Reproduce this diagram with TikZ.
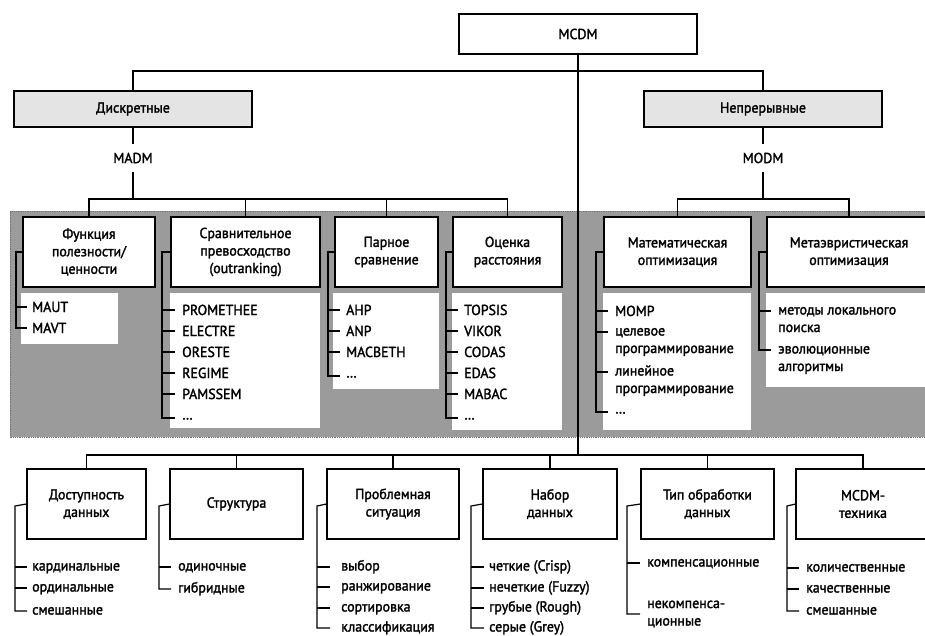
\documentclass[tikz,border=0pt]{standalone}
\usepackage{fontspec}
\setmainfont{PT Sans}[FakeStretch=0.96, FakeBold=1.8]
\usetikzlibrary{calc}
\definecolor{panel}{HTML}{9B9B9B}
\definecolor{catfill}{HTML}{E4E4E4}
\tikzset{
  ln/.style={line width=1.2pt},
  box/.style={draw, line width=1.2pt, fill=white, align=center, inner sep=0pt},
  catbox/.style={box, fill=catfill},
  lbl/.style={inner sep=0pt, minimum height=28pt},
  itm/.style={anchor=west, inner sep=0pt, text height=10pt, text depth=0pt},
  itl/.style={itm, text height=7pt},
  dts/.style={itm, text height=3pt},
  itmc/.style={anchor=west, inner sep=0pt, align=left},
}
\newcommand\twol[2]{\begin{tabular}[t]{@{}l@{}}#1\\#2\end{tabular}}
\begin{document}
\begin{tikzpicture}[x=1pt,y=-1pt,font=\fontsize{14.5}{17.5}\selectfont]
\useasboundingbox (0,0) rectangle (925,636);
\clip (0,0) rectangle (925,636);
% background panel and list areas
\fill[panel] (10,211) rectangle (940,437);
\draw[black!55, line width=0.8pt, densely dotted] (940,211) -- (10,211) -- (10,437) -- (940,437);
\fill[white] (21,293) rectangle (118,344);
\fill[white] (170,293) rectangle (320,428);
\fill[white] (333,293) rectangle (439,389);
\fill[white] (452,293) rectangle (562,430);
\fill[white] (603,293) rectangle (751,430);
\fill[white] (766,293) rectangle (940,387);

% top level
\node[box, minimum width=238pt, minimum height=40pt] (mcdm) at (578,34) {MCDM};
\node[catbox, minimum width=238pt, minimum height=36pt] (disc) at (133,109) {Дискретные};
\node[catbox, minimum width=238pt, minimum height=36pt] (cont) at (763,109) {Непрерывные};
\node[lbl] (madm) at (133,158) {MADM};
\node[lbl] (modm) at (763,158) {MODM};

% MADM / MODM groups
\node[box, minimum width=132pt, minimum height=70pt] (f1) at (89,252) {Функция\\полезности/\\ценности};
\node[box, minimum width=149pt, minimum height=70pt] (f2) at (245.5,252) {Сравнительное\\превосходство\\(outranking)};
\node[box, minimum width=103pt, minimum height=70pt] (f3) at (386.5,252) {Парное\\сравнение};
\node[box, minimum width=109pt, minimum height=70pt] (f4) at (507.5,252) {Оценка\\расстояния};
\node[box, minimum width=147pt, minimum height=70pt] (f5) at (677.5,252) {Математическая\\оптимизация};
\node[box, minimum width=164pt, minimum height=70pt] (f6) at (849,252) {Метаэвристическая\\оптимизация};

% bottom groups
\node[box, minimum width=119pt, minimum height=70pt] (g1) at (86.5,504) {Доступность\\данных};
\node[box, minimum width=133pt, minimum height=70pt] (g2) at (236.5,504) {Структура};
\node[box, minimum width=132pt, minimum height=70pt] (g3) at (393,504) {Проблемная\\ситуация};
\node[box, minimum width=134pt, minimum height=70pt] (g4) at (550,504) {Набор\\данных};
\node[box, minimum width=133pt, minimum height=70pt] (g5) at (707.5,504) {Тип обработки\\данных};
\node[box, minimum width=134pt, minimum height=70pt] (g6) at (863,504) {MCDM-\\техника};

% items
\node[itm] (a1) at (32,307) {MAUT};
\node[itm] (a2) at (32,328) {MAVT};

\node[itm] (b1) at (182,310) {PROMETHEE};
\node[itm] (b2) at (182,331) {ELECTRE};
\node[itm] (b3) at (182,352) {ORESTE};
\node[itm] (b4) at (182,373) {REGIME};
\node[itm] (b5) at (182,394) {PAMSSEM};
\node[dts] (b6) at (182,418) {…};

\node[itm] (c1) at (346,310) {AHP};
\node[itm] (c2) at (346,331) {ANP};
\node[itm] (c3) at (346,352) {MACBETH};
\node[dts] (c4) at (346,376) {…};

\node[itm] (d1) at (464,310) {TOPSIS};
\node[itm] (d2) at (464,331) {VIKOR};
\node[itm] (d3) at (464,352) {CODAS};
\node[itm] (d4) at (464,373) {EDAS};
\node[itm] (d5) at (464,394) {MABAC};
\node[dts] (d6) at (464,418) {…};

\node[itm] (e1) at (615,311) {MOMP};
\node[itl] (e2) at (615,332) {\twol{целевое}{программирование}};
\node[itl] (e3) at (615,372) {\twol{линейное}{программирование}};
\node[dts] (e4) at (615,412) {…};

\node[itl] (h1) at (778,311) {\twol{методы локального}{поиска}};
\node[itl] (h2) at (778,350) {\twol{эволюционные}{алгоритмы}};

\node[itl] (p1) at (32,567) {кардинальные};
\node[itl] (p2) at (32,588) {ординальные};
\node[itl] (p3) at (32,611) {смешанные};

\node[itl] (q1) at (178,567) {одиночные};
\node[itl] (q2) at (178,589) {гибридные};

\node[itl] (r1) at (341,567) {выбор};
\node[itl] (r2) at (341,587) {ранжирование};
\node[itl] (r3) at (341,608) {сортировка};
\node[itl] (r4) at (341,628) {классификация};

\node[itl] (s1) at (489,567) {четкие (Crisp)};
\node[itl] (s2) at (489,588) {нечеткие (Fuzzy)};
\node[itl] (s3) at (489,608) {грубые (Rough)};
\node[itl] (s4) at (489,628) {серые (Grey)};

\node[itl] (t1) at (647,563) {компенсационные};
\node[itmc] (t2) at (647,614) {некомпенса-\\ционные};

\node[itl] (u1) at (806,568) {количественные};
\node[itl] (u2) at (806,589) {качественные};
\node[itl] (u3) at (806,611) {смешанные};

% bracket corners
\coordinate (k1) at (16,252);
\coordinate (k2) at (162,252);
\coordinate (k3) at (328,252);
\coordinate (k4) at (446,252);
\coordinate (k5) at (596,252);
\coordinate (k6) at (759,252);
\coordinate (m1) at (15,506);
\coordinate (m2) at (159,506);
\coordinate (m3) at (317,506);
\coordinate (m4) at (471,506);
\coordinate (m5) at (627,506);
\coordinate (m6) at (787,506);

% bus coordinates
\coordinate (busT) at (578,71);
\coordinate (busA) at (133,199);
\coordinate (busO) at (763,199);
\coordinate (busB) at (578,455);

\begin{scope}[ln]
% tree connectors
\draw (mcdm.south) -- (busB);
\draw (disc.north) -- (disc.north |- busT) -- (cont.north |- busT) -- (cont.north);
\draw (disc.south) -- (madm.north);
\draw (cont.south) -- (modm.north);
\draw (madm.south) -- (busA);
\draw (modm.south) -- (busO);
\draw (f1.north) -- (f1.north |- busA) -- (f4.north |- busA) -- (f4.north);
\draw (f2.north) -- (f2.north |- busA);
\draw (f3.north) -- (f3.north |- busA);
\draw (f5.north) -- (f5.north |- busO) -- (f6.north |- busO) -- (f6.north);
\draw (g1.north) -- (g1.north |- busB) -- (g6.north |- busB) -- (g6.north);
\foreach \g in {g2,g3,g4,g5} \draw (\g.north) -- (\g.north |- busB);

% brackets
\draw (f1.west) -- (k1) -- (k1 |- a2.west) -- ++(11,0);
\draw (a1.west -| k1) -- ++(11,0);
\draw (f2.west) -- (k2) -- (k2 |- b6.west) -- ++(13,0);
\foreach \i in {b1,b2,b3,b4,b5} \draw (\i.west -| k2) -- ++(13,0);
\draw (f3.west) -- (k3) -- (k3 |- c4.west) -- ++(12,0);
\foreach \i in {c1,c2,c3} \draw (\i.west -| k3) -- ++(12,0);
\draw (f4.west) -- (k4) -- (k4 |- d6.west) -- ++(12,0);
\foreach \i in {d1,d2,d3,d4,d5} \draw (\i.west -| k4) -- ++(12,0);
\draw (f5.west) -- (k5) -- (k5 |- e4.west) -- ++(12,0);
\foreach \i in {e1,e2,e3} \draw (\i.west -| k5) -- ++(12,0);
\draw (f6.west) -- (k6) -- (k6 |- h2.west) -- ++(12,0);
\draw (h1.west -| k6) -- ++(12,0);

\draw (g1.west) -- (m1) -- (m1 |- p3.west) -- ++(12,0);
\foreach \i in {p1,p2} \draw (\i.west -| m1) -- ++(12,0);
\draw (g2.west) -- (m2) -- (m2 |- q2.west) -- ++(12,0);
\draw (q1.west -| m2) -- ++(12,0);
\draw (g3.west) -- (m3) -- (m3 |- r4.west) -- ++(13,0);
\foreach \i in {r1,r2,r3} \draw (\i.west -| m3) -- ++(13,0);
\draw (g4.west) -- (m4) -- (m4 |- s4.west) -- ++(13,0);
\foreach \i in {s1,s2,s3} \draw (\i.west -| m4) -- ++(13,0);
\draw (g5.west) -- (m5) -- (m5 |- t2.west) -- ++(13,0);
\draw (t1.west -| m5) -- ++(13,0);
\draw (g6.west) -- (m6) -- (m6 |- u3.west) -- ++(12,0);
\foreach \i in {u1,u2} \draw (\i.west -| m6) -- ++(12,0);
\end{scope}
\end{tikzpicture}
\end{document}
